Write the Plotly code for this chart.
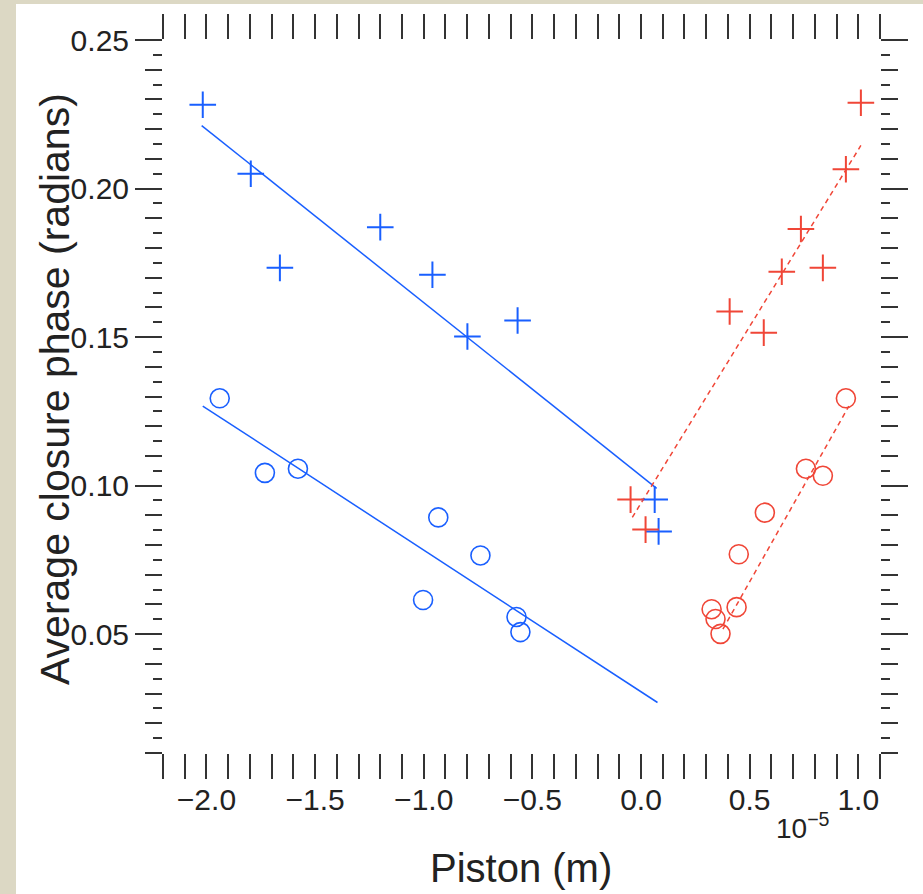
import plotly.graph_objects as go

# ---- data (piston in units of 1e-5 m, closure phase in radians) ----
blue_plus_x = [-2.017, -1.796, -1.662, -1.200, -0.960, -0.799, -0.568, 0.063, 0.081]
blue_plus_y = [0.2282, 0.2050, 0.1733, 0.1870, 0.1710, 0.1502, 0.1556, 0.0953, 0.0846]

blue_circ_x = [-1.939, -1.731, -1.579, -0.933, -0.739, -1.003, -0.573, -0.555]
blue_circ_y = [0.1294, 0.1043, 0.1057, 0.0893, 0.0765, 0.0615, 0.0558, 0.0507]

red_plus_x = [-0.048, 0.021, 0.408, 0.565, 0.648, 0.736, 0.837, 0.943, 1.012]
red_plus_y = [0.0953, 0.0852, 0.1586, 0.1515, 0.1720, 0.1864, 0.1733, 0.2065, 0.2289]

red_circ_x = [0.325, 0.343, 0.366, 0.440, 0.450, 0.570, 0.759, 0.837, 0.943]
red_circ_y = [0.0584, 0.0551, 0.0501, 0.0591, 0.0769, 0.0909, 0.1057, 0.1033, 0.1294]

# fitted line end points
blue_plus_fit_x = [-2.022, 0.072]
blue_plus_fit_y = [0.2212, 0.0991]
blue_circ_fit_x = [-2.017, 0.076]
blue_circ_fit_y = [0.1268, 0.0270]
red_plus_fit_x = [-0.040, 1.012]
red_plus_fit_y = [0.0893, 0.2145]
red_circ_fit_x = [0.377, 0.957]
red_circ_fit_y = [0.0517, 0.1268]

x_ticks = [-2.0, -1.5, -1.0, -0.5, 0.0, 0.5, 1.0]
x_minor = [round(-2.2 + 0.1 * i, 2) for i in range(34)]
y_ticks = [0.05, 0.10, 0.15, 0.20, 0.25]
y_mid = [round(0.01 + 0.01 * i, 3) for i in range(25)]
y_minor = [round(0.01 + 0.005 * i, 4) for i in range(49)]

x_range = [-2.2, 1.1]
y_range = [0.01, 0.25]

BLUE = "rgb(25,95,255)"
RED = "rgb(240,70,55)"
FONT = "Liberation Sans, Arial, sans-serif"
INK = "#222222"

fig = go.Figure()

fig.add_trace(go.Scatter(x=blue_plus_fit_x, y=blue_plus_fit_y, mode="lines",
                         line=dict(color=BLUE, width=1.5), showlegend=False))
fig.add_trace(go.Scatter(x=blue_circ_fit_x, y=blue_circ_fit_y, mode="lines",
                         line=dict(color=BLUE, width=1.5), showlegend=False))
fig.add_trace(go.Scatter(x=red_plus_fit_x, y=red_plus_fit_y, mode="lines",
                         line=dict(color=RED, width=1.5, dash="5px,4px"), showlegend=False))
fig.add_trace(go.Scatter(x=red_circ_fit_x, y=red_circ_fit_y, mode="lines",
                         line=dict(color=RED, width=1.5, dash="5px,4px"), showlegend=False))

fig.add_trace(go.Scatter(x=blue_plus_x, y=blue_plus_y, mode="markers",
                         marker=dict(symbol="cross-thin-open", size=19, color=BLUE,
                                     line=dict(color=BLUE, width=2)), showlegend=False))
fig.add_trace(go.Scatter(x=blue_circ_x, y=blue_circ_y, mode="markers",
                         marker=dict(symbol="circle-open", size=19, color=BLUE,
                                     line=dict(color=BLUE, width=1.6)), showlegend=False))
fig.add_trace(go.Scatter(x=red_plus_x, y=red_plus_y, mode="markers",
                         marker=dict(symbol="cross-thin-open", size=19, color=RED,
                                     line=dict(color=RED, width=2)), showlegend=False))
fig.add_trace(go.Scatter(x=red_circ_x, y=red_circ_y, mode="markers",
                         marker=dict(symbol="circle-open", size=19, color=RED,
                                     line=dict(color=RED, width=1.6)), showlegend=False))
# dummy trace for the overlay axis carrying the medium ticks
fig.add_trace(go.Scatter(x=[], y=[], yaxis="y2", showlegend=False))

L, R, T, B = 163, 43, 40, 141
W, H = 923, 894
pw, ph = W - L - R, H - T - B

fig.update_layout(
    width=W, height=H,
    margin=dict(l=L, r=R, t=T, b=B),
    paper_bgcolor="#dcd8c4",
    plot_bgcolor="white",
    font=dict(family=FONT, color=INK),
    xaxis=dict(range=x_range, showgrid=False, zeroline=False, showline=False,
               tickmode="array", tickvals=x_ticks, tickformat=".1f",
               ticks="outside", ticklen=25, tickwidth=2, tickcolor="#333",
               mirror="allticks", tickfont=dict(size=30, family=FONT, color=INK),
               ticklabelstandoff=-5,
               minor=dict(tickmode="array", tickvals=x_minor, ticks="outside",
                          ticklen=17, tickwidth=2, tickcolor="#333", showgrid=False)),
    yaxis=dict(range=y_range, showgrid=False, zeroline=False, showline=False,
               tickmode="array", tickvals=y_ticks, tickformat=".2f",
               ticks="outside", ticklen=27, tickwidth=2, tickcolor="#333",
               mirror="allticks", tickfont=dict(size=30, family=FONT, color=INK),
               minor=dict(tickmode="array", tickvals=y_minor, ticks="outside",
                          ticklen=9, tickwidth=2, tickcolor="#333", showgrid=False)),
    yaxis2=dict(range=y_range, overlaying="y", side="left", showgrid=False,
                zeroline=False, showline=False, tickmode="array", tickvals=y_mid,
                showticklabels=False, ticks="outside", ticklen=17, tickwidth=2,
                tickcolor="#333", mirror="allticks"),
    shapes=[dict(type="rect", xref="paper", yref="paper", layer="below",
                 x0=(16 - L) / pw, x1=(W - L) / pw,
                 y0=(H - B - H) / ph, y1=(H - B - 4) / ph,
                 fillcolor="white", line=dict(width=0))],
    annotations=[
        dict(text="Piston (m)", xref="paper", yref="paper",
             x=(521 - L) / pw, y=(H - B - 868) / ph, showarrow=False,
             xanchor="center", yanchor="middle", font=dict(size=40, family=FONT, color=INK)),
        dict(text="Average closure phase (radians)", xref="paper", yref="paper",
             x=(55 - L) / pw, y=(H - B - 389) / ph, showarrow=False, textangle=-90,
             xanchor="center", yanchor="middle", font=dict(size=41, family=FONT, color=INK)),
        dict(text="10<sup>−5</sup>", xref="paper", yref="paper",
             x=(803 - L) / pw, y=(H - B - 826) / ph, showarrow=False,
             xanchor="center", yanchor="middle", font=dict(size=28, family=FONT, color=INK)),
    ],
)

fig.write_html("out.html", config={"displayModeBar": False},
               post_script="document.body.style.margin='0';document.body.style.padding='0';")
